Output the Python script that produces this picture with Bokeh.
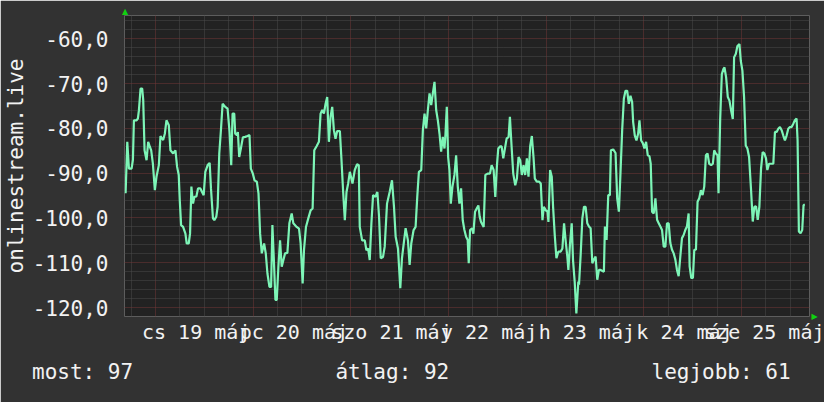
import math
from bokeh.plotting import figure
from bokeh.models import Range1d, FixedTicker, Title, LinearAxis
from bokeh.embed import file_html
from bokeh.resources import INLINE

# ---- data: hours since 2022-05-19 00:00 and signal value ----
hours = [
    -7.35, -6.94, -6.53, -5.88, -5.55, -5.31, -4.65, -4.33, -4.08, -3.67, -3.27, -3.02,
    -2.69, -2.20, -1.80, -1.39, -1.06, -0.65, -0.16, 0.24, 0.82, 1.22, 1.88, 2.29,
    2.69, 3.27, 3.67, 4.33, 4.90, 5.31, 5.71, 5.96, 6.29, 6.78, 7.35, 7.67, 8.16, 8.49,
    8.82, 9.22, 9.55, 10.04, 10.45, 11.02, 11.43, 11.84, 12.24, 12.82, 13.31, 13.63,
    14.12, 14.45, 14.94, 15.27, 15.67, 16.08, 16.49, 17.14, 17.71, 18.20, 18.61, 18.94,
    19.35, 19.59, 20.00, 20.24, 20.57, 20.98, 21.47, 22.04, 22.61, 23.10, 23.43, 23.92,
    24.33, 24.90, 25.31, 25.71, 26.12, 26.69, 27.10, 27.51, 28.00, 28.41, 28.73, 29.06,
    29.47, 29.80, 30.20, 30.61, 31.02, 31.43, 31.84, 32.41, 32.90, 33.47, 33.88, 34.69,
    35.27, 35.67, 36.16, 36.49, 36.98, 37.55, 38.12, 38.61, 39.02, 39.59, 40.16, 40.57,
    40.98, 41.39, 41.80, 42.20, 42.61, 43.02, 43.43, 43.84, 44.24, 44.65, 45.31, 45.71,
    46.12, 46.53, 46.94, 47.35, 47.76, 48.41, 48.98, 49.55, 49.96, 50.20, 50.78, 51.43,
    51.84, 52.24, 52.65, 53.06, 53.47, 54.04, 54.53, 54.94, 55.35, 55.92, 56.33, 56.90,
    57.55, 58.12, 58.61, 59.02, 59.59, 60.16, 60.57, 61.06, 61.47, 62.04, 62.45, 62.86,
    63.43, 63.92, 64.33, 64.73, 65.31, 65.71, 66.12, 66.53, 66.94, 67.35, 67.76, 68.16,
    68.57, 68.98, 69.39, 69.80, 70.20, 70.61, 71.02, 71.27, 71.59, 71.92, 72.24, 72.57,
    72.98, 73.47, 73.88, 74.29, 74.69, 75.10, 75.51, 75.92, 76.33, 76.73, 76.98, 77.31,
    77.80, 78.12, 78.53, 78.94, 79.35, 79.67, 80.00, 80.65, 81.06, 81.63, 82.20, 82.61,
    83.10, 83.51, 83.92, 84.24, 84.73, 85.06, 85.47, 85.88, 86.29, 86.78, 87.10, 87.51,
    87.92, 88.41, 88.82, 89.22, 89.63, 90.04, 90.45, 90.86, 91.27, 91.67, 92.08, 92.49,
    92.90, 93.22, 93.71, 94.29, 94.69, 95.10, 95.43, 95.92, 96.33, 96.57, 96.98, 97.39,
    97.71, 98.12, 98.53, 99.02, 99.59, 100.00, 100.41, 100.82, 101.22, 101.47, 101.88, 102.29,
    102.61, 103.02, 103.43, 103.92, 104.08, 104.49, 104.90, 105.31, 105.71, 106.12, 106.53, 106.94,
    107.35, 107.76, 108.16, 108.57, 108.98, 109.39, 110.20, 110.45, 110.86, 111.27, 111.67, 111.92,
    112.49, 113.06, 113.47, 113.88, 114.29, 114.69, 115.10, 115.51, 115.92, 116.33, 116.73, 117.14,
    117.39, 117.80, 118.20, 118.61, 118.94, 119.35, 119.76, 120.16, 120.57, 120.98, 121.39, 121.71,
    122.04, 122.45, 122.86, 123.27, 123.67, 124.08, 124.49, 124.90, 125.31, 125.71, 126.12, 126.53,
    126.94, 127.35, 127.76, 128.16, 128.57, 128.98, 129.39, 129.80, 130.20, 130.61, 131.02, 131.27,
    131.67, 132.08, 132.41, 132.82, 133.22, 133.63, 134.04, 134.45, 134.86, 135.27, 135.67, 136.08,
    136.57, 136.98, 137.31, 137.71, 138.12, 138.37, 138.78, 139.18, 139.59, 139.84, 140.24, 140.65,
    141.06, 141.47, 141.88, 142.20, 142.61, 143.02, 143.51, 143.84, 144.24, 144.65, 145.06, 145.47,
    145.88, 146.37, 146.78, 147.18, 147.59, 148.00, 148.41, 148.82, 149.22, 149.63, 150.04, 150.37,
    150.78, 151.27, 151.84, 152.24, 152.65, 153.06, 153.47, 153.88, 154.29, 154.69, 155.10, 155.51,
    155.92, 156.33, 156.73, 157.14, 157.55, 157.80, 158.12, 158.53, 158.94, 159.27, 159.59,
]
values = [
    -94.5, -83.0, -89.0, -89.0, -87.0, -78.2, -78.2, -77.8, -76.0, -71.1, -71.1, -73.7,
    -84.9, -87.1, -83.0, -84.1, -84.9, -87.8, -93.8, -90.8, -88.2, -81.7, -82.6, -81.2,
    -78.2, -79.3, -84.9, -85.6, -84.9, -88.6, -90.4, -96.0, -101.6, -102.0, -103.5, -105.7, -105.7, -103.5,
    -93.0, -96.8, -95.3, -95.2, -93.4, -93.4, -94.2, -94.9, -89.7, -88.2, -87.7, -93.4,
    -100.1, -100.5, -99.7, -97.5, -85.6, -80.4, -74.5, -75.2, -75.6, -80.8, -88.2, -76.7,
    -76.7, -81.2, -81.5, -80.8, -86.4, -84.5, -82.0, -81.9, -81.7, -81.5, -89.0, -90.1,
    -91.6, -91.9, -94.5, -103.5, -107.9, -105.7, -107.9, -112.4, -115.4, -115.4, -101.6, -108.7,
    -118.3, -118.3, -110.9, -105.0, -110.9, -109.4, -107.9, -107.8, -101.2, -99.0, -101.2, -102.0,
    -102.4, -105.7, -114.6, -107.2, -102.0, -100.1, -98.3, -97.9, -84.9, -84.0, -83.0, -76.7,
    -75.9, -76.7, -74.5, -73.0, -83.0, -77.4, -75.2, -80.4, -82.3, -80.6, -80.6, -87.1,
    -94.2, -100.5, -94.2, -92.3, -89.7, -92.3, -89.3, -88.0, -88.2, -102.0, -105.0, -105.0,
    -107.2, -106.8, -109.4, -101.2, -94.9, -95.3, -94.2, -99.7, -109.0, -108.7, -106.4, -96.8,
    -94.2, -91.6, -97.5, -104.2, -106.8, -115.7, -109.0, -105.3, -102.3, -105.0, -110.5, -105.7,
    -102.7, -102.0, -95.3, -89.7, -89.3, -80.4, -76.7, -80.0, -75.9, -72.2, -74.8, -72.2,
    -69.6, -75.9, -78.2, -81.2, -85.2, -81.9, -84.5, -81.2, -75.2, -86.4, -89.3, -96.8,
    -93.0, -90.4, -86.0, -93.0, -96.8, -93.4, -100.5, -102.7, -104.2, -104.9, -110.1, -102.7,
    -102.3, -103.5, -98.6, -97.9, -97.2, -99.7, -100.9, -102.0, -90.4, -90.1, -90.1, -88.2,
    -89.3, -95.3, -88.2, -84.5, -84.0, -84.0, -86.7, -84.5, -82.3, -81.9, -77.4, -84.0,
    -90.1, -92.7, -91.2, -86.4, -87.1, -90.4, -88.2, -90.4, -86.7, -90.8, -84.0, -81.7,
    -86.4, -91.2, -91.9, -91.9, -92.3, -100.5, -97.5, -98.3, -98.6, -100.9, -89.3, -90.8,
    -97.5, -103.8, -109.0, -107.5, -107.5, -106.8, -101.2, -105.3, -108.7, -111.6, -105.7, -101.2,
    -109.4, -114.2, -121.3, -114.2, -114.9, -108.2, -100.1, -97.5, -97.5, -101.2, -101.9, -102.3,
    -110.1, -109.3, -108.6, -113.8, -111.6, -111.6, -112.0, -101.9, -104.9, -94.9, -94.9, -84.9,
    -84.7, -85.5, -95.6, -98.6, -89.7, -80.4, -73.4, -71.6, -71.6, -74.5, -72.7, -74.1,
    -78.6, -81.6, -82.7, -81.2, -78.2, -82.7, -83.3, -84.5, -83.0, -86.0, -86.2, -87.9,
    -98.6, -99.0, -95.6, -100.4, -101.2, -101.9, -102.7, -106.4, -106.4, -101.2, -101.2, -105.6,
    -107.1, -107.9, -109.3, -111.6, -113.0, -108.6, -104.5, -103.8, -102.7, -101.9, -99.0, -110.8,
    -113.4, -113.4, -107.1, -107.1, -96.4, -95.6, -93.8, -94.9, -93.0, -86.0, -85.6, -87.9,
    -88.2, -87.9, -84.9, -85.6, -86.0, -94.5, -77.9, -67.9, -66.7, -66.4, -68.6, -73.0,
    -73.8, -76.0, -77.9, -64.1, -63.4, -61.6, -61.2, -64.9, -67.1, -73.0, -83.8, -84.5,
    -86.4, -93.8, -100.8, -97.5, -97.4, -100.4, -97.5, -89.0, -85.3, -85.6, -86.7, -89.3,
    -87.9, -87.9, -87.9, -80.8, -80.8, -80.1, -79.7, -80.4, -81.6, -82.7, -81.6, -80.1,
    -79.7, -79.7, -79.0, -78.2, -77.8, -82.7, -103.0, -103.4, -102.7, -97.1, -97.1,
]

y_ticks = [-120, -110, -100, -90, -80, -70, -60]
y_tick_labels = ["-120,0", "-110,0", "-100,0", "-90,0", "-80,0", "-70,0", "-60,0"]
y_minor = [-122, -118, -116, -114, -112, -108, -106, -104, -102, -98, -96, -94, -92,
           -88, -86, -84, -82, -78, -76, -74, -72, -68, -66, -64, -62, -58, -56]
day_label_hours = [10, 34, 58, 82, 106, 130, 154]
day_labels = ["cs 19 máj", "pc 20 máj", "szo 21 máj", "v 22 máj",
              "h 23 máj", "k 24 máj", "sze 25 máj"]
midnights = [0, 24, 48, 72, 96, 120, 144]
six_hours = [-6, 6, 12, 18, 30, 36, 42, 54, 60, 66, 78, 84, 90, 102, 108, 114,
             126, 132, 138, 150, 156]
series_name = "onlinestream.live"
summary_texts = ["most: 97", "átlag: 92", "legjobb: 61"]

BG = "#323232"
CANVAS = "#222222"
TXT = "#f2f2f2"
LINE = "#7df5b7"
ARROW = "#10d010"
MONO = "DejaVu Sans Mono"

p = figure(width=824, height=402,
           x_range=Range1d(-7.62, 160.73), y_range=Range1d(-122.0, -54.8),
           output_backend="svg", toolbar_location=None,
           min_border_left=124, min_border_right=15, min_border_top=15, min_border_bottom=86,
           background_fill_color=CANVAS, border_fill_color=BG, outline_line_color=None)

# grids
p.xgrid.ticker = FixedTicker(ticks=midnights, minor_ticks=six_hours)
p.xgrid.grid_line_color = "#733636"
p.xgrid.grid_line_dash = "1 1"
p.xgrid.minor_grid_line_color = "#4a4a4a"
p.xgrid.minor_grid_line_dash = "1 1"
p.ygrid.ticker = FixedTicker(ticks=y_ticks, minor_ticks=y_minor)
p.ygrid.grid_line_color = "#733636"
p.ygrid.grid_line_dash = "1 1"
p.ygrid.minor_grid_line_color = "#4a4a4a"
p.ygrid.minor_grid_line_dash = "1 1"


def plain_axis(ax):
    ax.axis_line_color = None
    ax.major_tick_line_color = None
    ax.minor_tick_line_color = None
    ax.major_tick_out = 0
    ax.major_tick_in = 0


# axes
xa = p.xaxis[0]
plain_axis(xa)
xa.ticker = FixedTicker(ticks=day_label_hours)
xa.major_label_overrides = {h: s for h, s in zip(day_label_hours, day_labels)}
xa.major_label_standoff = 3
xa.major_label_text_font = MONO
xa.major_label_text_font_size = "20px"
xa.major_label_text_color = TXT

ya = p.yaxis[0]
plain_axis(ya)
ya.ticker = FixedTicker(ticks=y_ticks)
ya.major_label_overrides = {t: s for t, s in zip(y_ticks, y_tick_labels)}
ya.major_label_standoff = 16
ya.major_label_text_font = MONO
ya.major_label_text_font_size = "21px"
ya.major_label_text_color = TXT
ya.axis_label = series_name
ya.axis_label_standoff = 2
ya.axis_label_text_font = MONO
ya.axis_label_text_font_size = "21px"
ya.axis_label_text_font_style = "normal"
ya.axis_label_text_color = TXT

# small green axis arrows, drawn as single-tick axes
up_at = [-7.5]
top_ax = LinearAxis(ticker=FixedTicker(ticks=up_at), major_label_overrides={up_at[0]: "▲"},
                    major_label_standoff=0, major_label_text_font="DejaVu Sans",
                    major_label_text_font_size="8px", major_label_text_color=ARROW)
plain_axis(top_ax)
p.add_layout(top_ax, "above")

right_at = [-121.9]
right_ax = LinearAxis(ticker=FixedTicker(ticks=right_at),
                      major_label_overrides={right_at[0]: "▶"},
                      major_label_standoff=2, major_label_text_font="DejaVu Sans",
                      major_label_text_font_size="8px", major_label_text_color=ARROW)
plain_axis(right_ax)
p.add_layout(right_ax, "right")

p.line(hours, values, line_color=LINE, line_width=2.2)

# summary line below the axis
NB = "\u00a0"
summary = summary_texts[0] + NB * 16 + summary_texts[1] + NB * 16 + summary_texts[2]
p.add_layout(Title(text=summary, align="left", offset=-92.5, standoff=22,
                   text_font=MONO, text_font_size="21px", text_font_style="normal",
                   text_color=TXT), "below")

open("out.html", "w").write(file_html(p, INLINE))
